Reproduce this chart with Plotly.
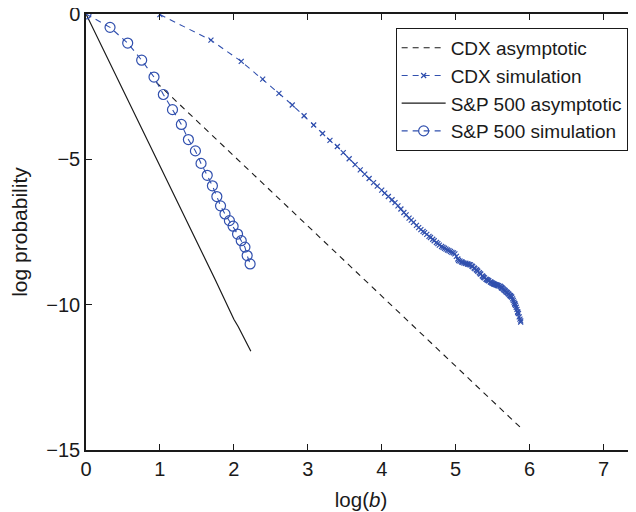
import plotly.graph_objects as go

# ---- data ----
cdx_asym_x = [0.95, 1.5, 2.0, 2.5, 3.0, 3.5, 4.0, 4.5, 5.0, 5.5, 5.88]
cdx_asym_y = [-2.35, -3.68, -4.88, -6.09, -7.29, -8.50, -9.70, -10.91, -12.11, -13.32, -14.23]

cdx_sim_x = [1.00, 1.69, 2.10, 2.39, 2.61, 2.79, 2.95, 3.08, 3.20, 3.30,
             3.40, 3.48, 3.56, 3.64, 3.71, 3.77, 3.83, 3.89, 3.94, 4.00,
             4.04, 4.09, 4.14, 4.18, 4.22, 4.26, 4.30, 4.33, 4.37, 4.40,
             4.43, 4.47, 4.50, 4.53, 4.56, 4.58, 4.61, 4.64, 4.66, 4.69,
             4.71, 4.74, 4.76, 4.78, 4.81, 4.83, 4.85, 4.87, 4.89, 4.91,
             4.93, 4.95, 4.97, 4.99, 5.01, 5.03, 5.04, 5.06, 5.08, 5.09,
             5.11, 5.13, 5.14, 5.16, 5.17, 5.19, 5.20, 5.22, 5.23, 5.25,
             5.26, 5.28, 5.29, 5.30, 5.32, 5.33, 5.34, 5.36, 5.37, 5.38,
             5.39, 5.41, 5.42, 5.43, 5.44, 5.45, 5.47, 5.48, 5.49, 5.50,
             5.51, 5.52, 5.53, 5.54, 5.55, 5.56, 5.57, 5.58, 5.60, 5.61,
             5.62, 5.62, 5.63, 5.64, 5.65, 5.66, 5.67, 5.68, 5.69, 5.70,
             5.71, 5.72, 5.73, 5.74, 5.74, 5.75, 5.76, 5.77, 5.78, 5.79,
             5.80, 5.80, 5.81, 5.82, 5.83, 5.84, 5.84, 5.85, 5.86, 5.87,
             5.88, 5.88]
cdx_sim_y = [-0.02, -0.90, -1.63, -2.24, -2.73, -3.13, -3.50, -3.82, -4.11, -4.35,
             -4.56, -4.77, -4.98, -5.18, -5.36, -5.51, -5.66, -5.80, -5.92, -6.06,
             -6.16, -6.28, -6.39, -6.49, -6.60, -6.71, -6.83, -6.91, -7.02, -7.09,
             -7.17, -7.27, -7.35, -7.42, -7.48, -7.52, -7.58, -7.65, -7.69, -7.75,
             -7.80, -7.86, -7.90, -7.95, -8.00, -8.03, -8.06, -8.09, -8.12, -8.14,
             -8.17, -8.20, -8.22, -8.25, -8.34, -8.43, -8.48, -8.50, -8.53, -8.54,
             -8.56, -8.58, -8.58, -8.60, -8.61, -8.62, -8.63, -8.67, -8.69, -8.74,
             -8.76, -8.80, -8.82, -8.85, -8.90, -8.93, -8.95, -9.01, -9.03, -9.06,
             -9.08, -9.12, -9.14, -9.15, -9.17, -9.18, -9.22, -9.23, -9.25, -9.26,
             -9.28, -9.29, -9.30, -9.31, -9.32, -9.33, -9.34, -9.35, -9.36, -9.38,
             -9.41, -9.42, -9.43, -9.45, -9.48, -9.50, -9.52, -9.55, -9.57, -9.59,
             -9.62, -9.64, -9.67, -9.69, -9.70, -9.72, -9.74, -9.80, -9.85, -9.91,
             -9.96, -9.98, -10.02, -10.09, -10.16, -10.24, -10.27, -10.31, -10.42, -10.50,
             -10.56, -10.60]

sp_asym_x = [0.0, 0.25, 0.5, 0.75, 1.0, 1.25, 1.5, 1.75, 2.0, 2.06, 2.23]
sp_asym_y = [0.0, -1.3, -2.6, -3.9, -5.2, -6.5, -7.85, -9.15, -10.5, -10.76, -11.6]

sp_sim_x = [0.0, 0.325, 0.564, 0.753, 0.92, 1.046, 1.17, 1.29, 1.385, 1.48,
            1.556, 1.64, 1.71, 1.77, 1.82, 1.88, 1.94, 1.99, 2.05, 2.10,
            2.15, 2.18, 2.22]
sp_sim_y = [0.0, -0.46, -1.0, -1.59, -2.17, -2.77, -3.29, -3.80, -4.32, -4.71,
            -5.14, -5.55, -5.91, -6.28, -6.6, -6.88, -7.11, -7.3, -7.57, -7.8,
            -8.02, -8.31, -8.6]

x_ticks = [0, 1, 2, 3, 4, 5, 6, 7]
y_ticks = [0, -5, -10, -15]

BLUE = "#3150AE"
BLACK = "#1a1a1a"
FONT = "Liberation Sans, Arial, sans-serif"

fig = go.Figure()
fig.add_trace(go.Scatter(x=cdx_asym_x, y=cdx_asym_y, mode="lines",
                         name="CDX asymptotic",
                         line=dict(color=BLACK, width=1.1, dash="6px,5px")))
fig.add_trace(go.Scatter(x=cdx_sim_x, y=cdx_sim_y, mode="lines+markers",
                         name="CDX simulation",
                         line=dict(color=BLUE, width=1.1, dash="6px,5px"),
                         marker=dict(symbol="x-thin", size=5, color=BLUE,
                                     line=dict(color=BLUE, width=1.2))))
fig.add_trace(go.Scatter(x=sp_asym_x, y=sp_asym_y, mode="lines",
                         name="S&P 500 asymptotic",
                         line=dict(color=BLACK, width=1.2)))
fig.add_trace(go.Scatter(x=sp_sim_x, y=sp_sim_y, mode="lines+markers",
                         name="S&P 500 simulation",
                         line=dict(color=BLUE, width=1.1, dash="6px,5px"),
                         marker=dict(symbol="circle-open", size=10, color=BLUE,
                                     line=dict(color=BLUE, width=1.2))))

# page body has an 8px margin, so the figure is sized to end at the window edge
fig.update_layout(
    width=628, height=504,
    margin=dict(l=78, r=0, t=6, b=62, autoexpand=False),
    plot_bgcolor="white", paper_bgcolor="white",
    font=dict(family=FONT, size=19, color=BLACK),
    showlegend=True,
    legend=dict(x=0.563, y=0.968, xanchor="left", yanchor="top",
                bordercolor=BLACK, borderwidth=1, bgcolor="white",
                font=dict(size=19, family=FONT, color=BLACK),
                itemwidth=44, tracegroupgap=0),
)
fig.update_xaxes(range=[0, 7.44], tickvals=x_ticks, ticks="inside", ticklen=6,
                 tickcolor=BLACK, showline=True, linecolor=BLACK, linewidth=1.5,
                 mirror="ticks", showgrid=False, zeroline=False, automargin=False,
                 ticklabeloverflow="allow",
                 tickfont=dict(size=20),
                 title=dict(text="log(<i>b</i>)", font=dict(size=20.5), standoff=14))
fig.update_yaxes(range=[-15, 0], tickvals=y_ticks, ticks="inside", ticklen=6,
                 tickcolor=BLACK, showline=True, linecolor=BLACK, linewidth=1.5,
                 mirror="ticks", showgrid=False, zeroline=False, automargin=False,
                 ticklabeloverflow="allow",
                 tickfont=dict(size=20),
                 title=dict(text="log probability", font=dict(size=21), standoff=14))

fig.write_html("out.html")
